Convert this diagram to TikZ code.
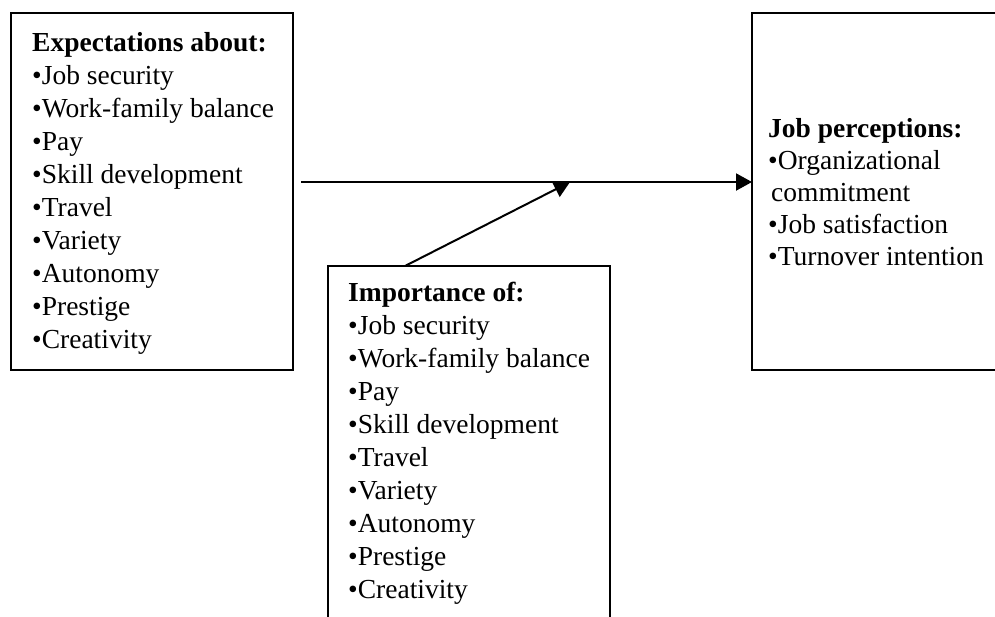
\documentclass[tikz,border=0pt]{standalone}
\usepackage{fontspec}
\setmainfont{Liberation Serif}
\usetikzlibrary{arrows.meta}
\begin{document}
\begin{tikzpicture}[x=1pt,y=-1pt,
  box/.style={draw=black,line width=2pt,anchor=north west,inner sep=0pt,outer sep=0pt},
  txt/.style={anchor=north west,inner sep=0pt,align=left,font=\fontsize{27.5}{33}\selectfont},
  conn/.style={line width=2pt,-{Triangle[length=16pt,width=17pt]}}]
\useasboundingbox (0,0) rectangle (995,616);
\node[box,minimum width=282pt,minimum height=357pt] (lbox) at (11,13) {};
\node[box,minimum width=282pt,minimum height=380pt] (mbox) at (328,266) {};
\node[box,minimum width=300pt,minimum height=357pt] (rbox) at (752,13) {};
\node[txt] (ltext) at (32,32) {\textbf{Expectations about:}\\•Job security\\•Work-family balance\\•Pay\\•Skill development\\•Travel\\•Variety\\•Autonomy\\•Prestige\\•Creativity};
\node[txt] (mtext) at (348,282) {\textbf{Importance of:}\\•Job security\\•Work-family balance\\•Pay\\•Skill development\\•Travel\\•Variety\\•Autonomy\\•Prestige\\•Creativity};
\node[txt,font=\fontsize{27.5}{32}\selectfont] (rtext) at (768,118) {\textbf{Job perceptions:}\\•Organizational\\\hspace{3pt}commitment\\•Job satisfaction\\•Turnover intention};
\coordinate (hs) at (301,182);
\coordinate (hm) at (570,182);
\coordinate (ds) at ([xshift=77pt]mbox.north west);
\draw[conn] (hs) -- (hs -| rbox.west);
\draw[conn] (ds) -- (hm);
\end{tikzpicture}
\end{document}
